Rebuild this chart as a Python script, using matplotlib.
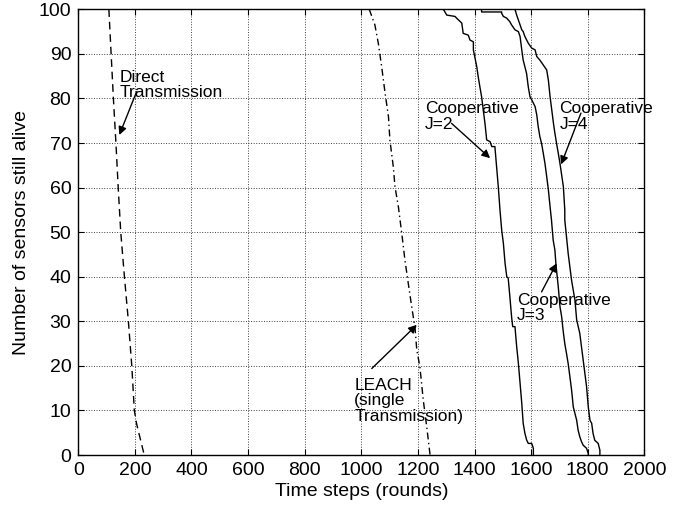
import matplotlib
matplotlib.use('Agg')
import matplotlib.pyplot as plt

plt.rcParams['font.family'] = ['Liberation Sans', 'DejaVu Sans']

# Direct transmission (dashed)
direct_x = [108, 124, 133, 141, 150, 163, 177, 189, 198, 206, 233]
direct_y = [100, 80, 70, 60, 50, 40, 30, 20, 10, 7, 0]

# LEACH (dash-dot)
leach_x = [1028, 1048, 1060, 1072, 1084, 1096, 1101, 1113, 1119, 1131, 1143,
           1154, 1166, 1178, 1190, 1196, 1207, 1219, 1231, 1243]
leach_y = [100, 96.5, 92.4, 87.1, 81.2, 75.9, 70.7, 64.7, 60.2, 55.7, 49.7,
           43.8, 38.5, 33.3, 28.4, 23.6, 19.8, 12.3, 6.4, 0]

# Cooperative J=2
j2_x = [1290, 1302, 1331, 1337, 1355, 1360, 1378, 1384, 1396, 1396, 1408,
        1413, 1419, 1425, 1431, 1437, 1443, 1455, 1461, 1472, 1478, 1484,
        1490, 1496, 1502, 1508, 1514, 1519, 1525, 1531, 1535, 1543, 1549,
        1555, 1561, 1567, 1572, 1578, 1584, 1590, 1602, 1608, 1608]
j2_y = [100, 98.7, 98.4, 98, 96.9, 94.6, 94.2, 93.1, 92.7, 90.9, 87.1,
        84.9, 82.6, 80.4, 77.4, 74.4, 70.7, 70.3, 69.2, 69.2, 64.7, 60.2,
        55, 50.5, 47.5, 43, 40, 39.7, 35.5, 31, 28.8, 28.8, 24.3,
        20.6, 16.1, 11.6, 7.1, 4.9, 3.4, 2.6, 2.6, 1.5, 0]

# Cooperative J=3
j3_x = [1425, 1425, 1496, 1496, 1502, 1514, 1525, 1531, 1543, 1555, 1561,
        1567, 1572, 1578, 1584, 1590, 1596, 1602, 1614, 1620, 1625, 1631,
        1637, 1643, 1649, 1655, 1661, 1667, 1672, 1678, 1684, 1688, 1696,
        1702, 1708, 1713, 1719, 1725, 1731, 1737, 1743, 1749, 1755, 1761,
        1766, 1772, 1778, 1784, 1796, 1802, 1802]
j3_y = [100, 99.4, 99.4, 99.1, 98.4, 98, 97.2, 96.5, 95.4, 95, 93.9,
        90.9, 88.6, 87.1, 85.6, 82.6, 80.4, 79.7, 78.2, 76.3, 73.7, 71.4,
        69.9, 67.7, 65.4, 62.5, 59.5, 55.7, 52.7, 48.2, 46, 42.6, 37.7,
        33.3, 31, 28, 25, 22.8, 20.5, 17.6, 14.6, 10.8, 9.3, 7.8,
        5.6, 4.1, 3, 2.2, 1.5, 0.3, 0]

# Cooperative J=4
j4_x = [1543, 1549, 1555, 1561, 1567, 1572, 1578, 1590, 1602, 1614, 1620,
        1631, 1643, 1655, 1661, 1667, 1673, 1679, 1684, 1690, 1696, 1702,
        1714, 1719, 1719, 1725, 1731, 1743, 1755, 1761, 1772, 1778, 1784,
        1790, 1796, 1802, 1808, 1814, 1819, 1825, 1837, 1843, 1843]
j4_y = [100, 98.7, 97.6, 96.5, 95.4, 95, 93.9, 92.4, 91.3, 90.9, 89.4,
        88.6, 87.5, 86.4, 84.1, 80.4, 77.4, 74.4, 72.2, 69.9, 67.7, 65.4,
        60.2, 55, 52.7, 49, 45.2, 39.2, 34.7, 30.3, 27.3, 24.3, 21.3,
        18.3, 15.3, 10.8, 7.8, 7.1, 4.8, 3.3, 2.6, 1.1, 0]

xticks = list(range(0, 2001, 200))
yticks = list(range(0, 101, 10))

fig = plt.figure(figsize=(6.85, 5.16), dpi=100)
ax = fig.add_axes([0.1143, 0.1182, 0.8263, 0.8638])

ax.plot(direct_x, direct_y, color='k', lw=1.0, dashes=(5.5, 3.5))
ax.plot(leach_x, leach_y, color='k', lw=1.0, dashes=(5, 2.5, 1, 2.5))
ax.plot(j2_x, j2_y, color='k', lw=1.0)
ax.plot(j3_x, j3_y, color='k', lw=1.0)
ax.plot(j4_x, j4_y, color='k', lw=1.0)

ax.set_xlim(0, 2000)
ax.set_ylim(0, 100)
ax.set_xticks(xticks)
ax.set_yticks(yticks)
ax.tick_params(direction='in', length=4, width=0.8, top=True, right=True,
               labelsize=14, pad=5)
ax.grid(True, color='0.25', linestyle=':', linewidth=0.7)
for s in ax.spines.values():
    s.set_linewidth(1.0)

ax.set_xlabel('Time steps (rounds)', fontsize=14, labelpad=3)
ax.set_ylabel('Number of sensors still alive', fontsize=14, labelpad=6)

arrow = dict(arrowstyle='-|>', color='k', lw=1.0, mutation_scale=12,
             shrinkA=0, shrinkB=0)
fs = 12.5

ax.text(145, 83, 'Direct\nTransmission', fontsize=fs, ha='left', va='center',
        linespacing=1.05)
ax.annotate('', xy=(145, 71.8), xytext=(206, 81.5), arrowprops=arrow)

ax.text(975, 12.2, 'LEACH\n(single\nTransmission)', fontsize=fs, ha='left',
        va='center', linespacing=1.05)
ax.annotate('', xy=(1196, 29.2), xytext=(1037, 19.4), arrowprops=arrow)

ax.text(1225, 76, 'Cooperative\nJ=2', fontsize=fs, ha='left', va='center',
        linespacing=1.05)
ax.annotate('', xy=(1455, 66.6), xytext=(1319, 74.4), arrowprops=arrow)

ax.text(1700, 76, 'Cooperative\nJ=4', fontsize=fs, ha='left', va='center',
        linespacing=1.05)
ax.annotate('', xy=(1706, 65.2), xytext=(1776, 76.7), arrowprops=arrow)

ax.text(1551, 33, 'Cooperative\nJ=3', fontsize=fs, ha='left', va='center',
        linespacing=1.05)
ax.annotate('', xy=(1690, 43), xytext=(1637, 36.6), arrowprops=arrow)

fig.savefig('out.png', dpi=100)
